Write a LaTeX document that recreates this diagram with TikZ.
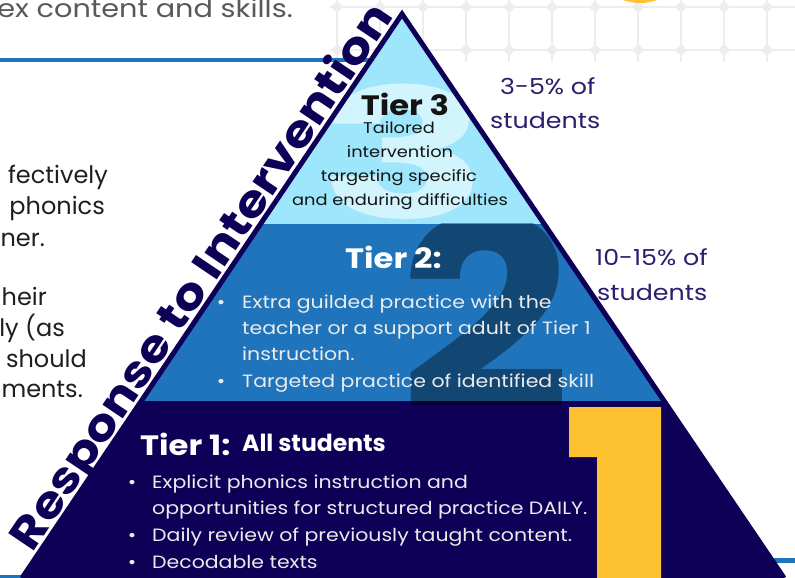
\documentclass[tikz,border=0pt]{standalone}
\usepackage{fontspec}
\setmainfont{Poppins}[FakeStretch=1.15]
\newfontfamily\plainpop{Poppins}
\usetikzlibrary{positioning}

\definecolor{rtinavy}{HTML}{0E0057}
\definecolor{tierblue}{HTML}{1F74BB}
\definecolor{tierlight}{HTML}{9EE6FC}
\definecolor{palethree}{HTML}{D2F4FD}
\definecolor{numyellow}{HTML}{FDC131}
\definecolor{pctnavy}{HTML}{2B1E6E}
\definecolor{gridgrey}{HTML}{EDEDED}
\definecolor{bodygrey}{HTML}{595959}

\begin{document}
\begin{tikzpicture}[x=1pt, y=-1pt, inner sep=0pt,
  bodyline/.style={font=\plainpop\fontsize{24}{24}\selectfont, text=black!88, anchor=base east},
  pctline/.style={font=\fontsize{22}{22}\selectfont, text=pctnavy, anchor=base west},
  tierhead/.style={font=\bfseries\fontsize{28}{28}\selectfont, text=white, anchor=base west},
  threeline/.style={font=\fontsize{15.5}{15.5}\selectfont, text=black!92, anchor=base},
  bulletline/.style={font=\fontsize{17.8}{18}\selectfont, text=white!92!black, anchor=base west},
  bulletdot/.style={font=\fontsize{17.8}{18}\selectfont, text=white!92!black, anchor=base}]

  % Define page
  \useasboundingbox (0,0) rectangle (795,578);
  \fill[white] (0,0) rectangle (795,578);

  % Background grid
  \foreach \gx in {337,380,...,795} {
    \draw[gridgrey, line width=1.6pt] (\gx,0) -- (\gx,62);
    \foreach \gy in {7,50}
      \fill[gridgrey] (\gx-6,\gy) -- (\gx,\gy-6) -- (\gx+6,\gy) -- (\gx,\gy+6) -- cycle;
  }
  \foreach \gy in {7,50}
    \draw[gridgrey, line width=1.6pt] (330,\gy) -- (795,\gy);
  \fill[numyellow] (640,-47) circle (50);

  % Rules
  \draw[tierblue, line width=4pt] (0,60) -- (372,60);
  \draw[tierblue, line width=4pt] (0,577) -- (60,577);
  \draw[tierblue, line width=5pt] (700,560) -- (795,560);

  % Text beside the pyramid
  \node[font=\fontsize{25}{25}\selectfont, text=bodygrey, anchor=base east] (intro) at (293,18) {ex content and skills.};
  \node[bodyline] (l1) at (108,183) {fectively};
  \node[bodyline] (l2) at (105,214) {phonics};
  \node[bodyline] (l3) at (45,246) {ner.};
  \node[bodyline] (l4) at (47,305) {heir};
  \node[bodyline] (l5) at (65,336) {ly (as};
  \node[bodyline] (l6) at (87,367) {should};
  \node[bodyline] (l7) at (83,397) {ments.};

  % Pyramid tiers
  \coordinate (apex) at (402,14);
  \coordinate (baseL) at (22,578);
  \coordinate (baseR) at (784,578);
  \begin{scope}
    \clip (apex) -- (baseR) -- (baseL) -- cycle;
    \fill[tierlight] (0,0) rectangle (795,224);
    \fill[tierblue] (0,224) rectangle (795,401);
    \fill[rtinavy] (0,401) rectangle (795,578);
    \node[font=\bfseries\fontsize{180}{180}\selectfont, text=palethree, anchor=base, xscale=1.35, transform shape] (bigthree) at (404,218) {3};
    \begin{scope}
      \clip (0,223) rectangle (795,410);
      \node[font=\bfseries\fontsize{262}{262}\selectfont, text=black, opacity=0.38, anchor=base] (bigtwo) at (486,408) {2};
    \end{scope}
    \fill[numyellow] (569,407) -- (661,407) -- (661,578) -- (597,578) -- (597,457) -- (569,457) -- cycle;
  \end{scope}
  \draw[rtinavy, line width=5pt, line join=miter] (baseL) -- (apex) -- (baseR);

  % Tier 3
  \node[font=\bfseries\fontsize{28}{28}\selectfont, text=black!92, anchor=base] (t3head) at (405,115) {Tier 3};
  \node[threeline] (t3a) at (399,133) {Tailored};
  \node[threeline] (t3b) at (400,157) {intervention};
  \node[threeline] (t3c) at (399,181) {targeting specific};
  \node[threeline] (t3d) at (400,205) {and enduring difficulties};
  \node[pctline] (p3a) at (500,95) {3-5\% of};
  \node[pctline] (p3b) at (490,128) {students};

  % Tier 2
  \node[tierhead] (t2head) at (345,268) {Tier 2:};
  \node[bulletdot] (d2a) at (221,308) {\textbullet};
  \node[bulletline] (t2a) at (242,308) {Extra guilded practice with the};
  \node[bulletline] (t2b) at (242,334) {teacher or a support adult of Tier 1};
  \node[bulletline] (t2c) at (242,360) {instruction.};
  \node[bulletdot] (d2b) at (221,387) {\textbullet};
  \node[bulletline] (t2d) at (242,387) {Targeted practice of identified skill};
  \node[pctline] (p2a) at (595,265) {10-15\% of};
  \node[pctline] (p2b) at (597,300) {students};

  % Tier 1
  \node[tierhead] (t1head) at (140,455) {Tier 1:};
  \node[font=\plainpop\bfseries\fontsize{23.5}{23.5}\selectfont, text=white, anchor=base west] (t1all) at (242,451) {All students};
  \node[bulletdot] (d1a) at (132,488) {\textbullet};
  \node[bulletline] (t1a) at (152,488) {Explicit phonics instruction and};
  \node[bulletline] (t1b) at (152,514) {opportunities for structured practice DAILY.};
  \node[bulletdot] (d1b) at (132,541) {\textbullet};
  \node[bulletline] (t1c) at (152,541) {Daily review of previously taught content.};
  \node[bulletdot] (d1c) at (132,568) {\textbullet};
  \node[bulletline] (t1d) at (152,568) {Decodable texts};

  % Side label
  \node[font=\bfseries\fontsize{44}{44}\selectfont, text=rtinavy, rotate=56] (rti) at (204,278) {Response to Intervention};
\end{tikzpicture}
\end{document}
